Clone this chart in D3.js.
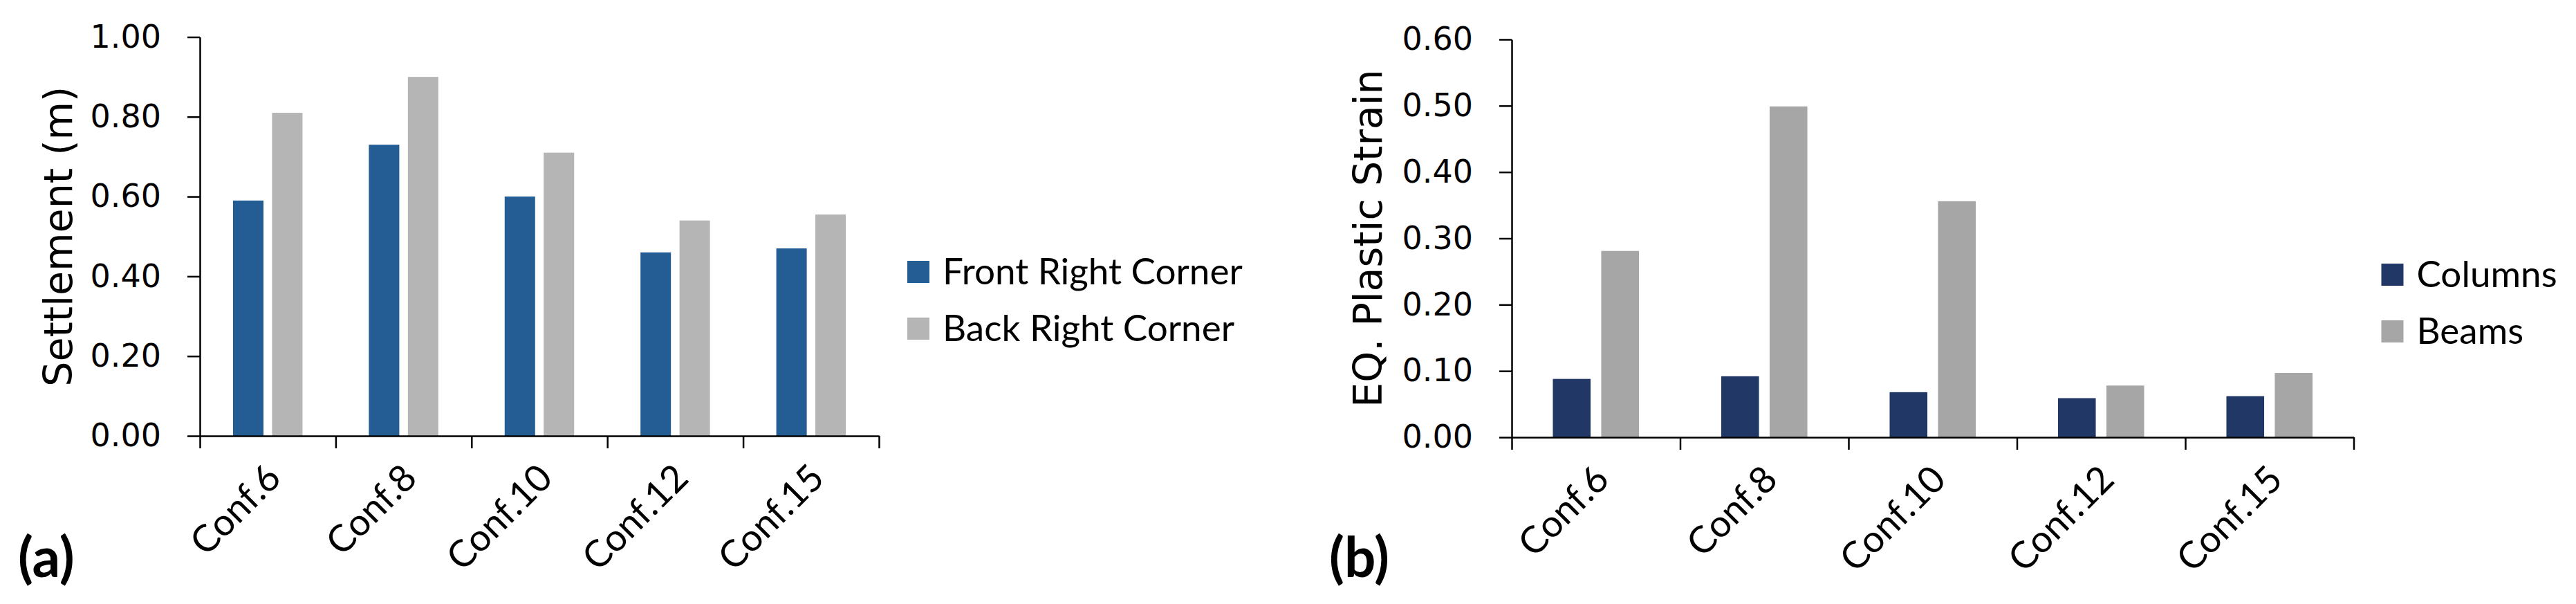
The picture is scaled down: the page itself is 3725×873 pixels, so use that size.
<!DOCTYPE html>
<html>
<head>
<meta charset="utf-8">
<script src="https://cdn.jsdelivr.net/npm/d3@7"></script>
<style>
  html, body { margin: 0; padding: 0; background: #ffffff; }
  svg { display: block; }
</style>
</head>
<body>
<script>
// ---------- data ----------
const categories = ["Conf.6", "Conf.8", "Conf.10", "Conf.12", "Conf.15"];

const settlementSeries = ["Front Right Corner", "Back Right Corner"];
const frontRightCorner = [0.59, 0.73, 0.60, 0.46, 0.47];
const backRightCorner  = [0.81, 0.90, 0.71, 0.54, 0.555];
const settlementTicks  = [0, 0.2, 0.4, 0.6, 0.8, 1.0];

const strainSeries = ["Columns", "Beams"];
const columnsStrain = [0.088, 0.092, 0.068, 0.059, 0.062];
const beamsStrain   = [0.281, 0.499, 0.356, 0.078, 0.097];
const strainTicks   = [0, 0.1, 0.2, 0.3, 0.4, 0.5, 0.6];

// ---------- page ----------
const W = 3725, H = 873;
const svg = d3.select("body").append("svg")
  .attr("width", W).attr("height", H)
  .style("background", "#ffffff");

const TICK_FONT = "'DejaVu Sans', Verdana, sans-serif";
const CAT_FONT = "Lato, 'Open Sans', sans-serif";

function drawPanel(cfg) {
  const g = svg.append("g");
  const y = d3.scaleLinear().domain([0, cfg.max]).range([cfg.y0, cfg.y1]);
  const x = d3.scaleBand().domain(cfg.categories).range([cfg.x0, cfg.x1]).padding(0);
  const xs = d3.scaleBand().domain(cfg.series).range([0, x.bandwidth()])
    .paddingInner(0.22).paddingOuter(0.85);
  const xEdges = d3.scaleLinear().domain([0, cfg.categories.length]).range([cfg.x0, cfg.x1]);

  // bars
  const rows = cfg.categories.map((c, i) => ({ c, vals: cfg.values.map(v => v[i]) }));
  const grp = g.selectAll("g.cat").data(rows).join("g")
    .attr("transform", d => `translate(${x(d.c)},0)`);
  grp.selectAll("rect").data(d => d.vals.map((v, k) => ({ v, k })))
    .join("rect")
    .attr("x", d => xs(cfg.series[d.k]))
    .attr("width", xs.bandwidth())
    .attr("y", d => y(d.v))
    .attr("height", d => y(0) - y(d.v))
    .attr("fill", d => cfg.colors[d.k]);

  // y axis
  const yAxis = g.append("g")
    .attr("transform", `translate(${cfg.x0},0)`)
    .call(d3.axisLeft(y).tickValues(cfg.ticks).tickFormat(d3.format(".2f"))
      .tickSize(18).tickSizeOuter(0).tickPadding(38));
  yAxis.selectAll("path, line").attr("stroke", "#000").attr("stroke-width", 2.5);
  yAxis.selectAll("text").attr("font-family", TICK_FONT).attr("font-size", 46)
    .attr("fill", "#000");

  // x axis (ticks at category boundaries)
  const xAxis = g.append("g")
    .attr("transform", `translate(0,${cfg.y0})`)
    .call(d3.axisBottom(xEdges).tickValues(d3.range(cfg.categories.length + 1))
      .tickFormat("").tickSize(18).tickSizeOuter(0));
  xAxis.selectAll("path, line").attr("stroke", "#000").attr("stroke-width", 2.5);

  // category labels
  g.selectAll("text.cat").data(cfg.categories).join("text")
    .attr("class", "cat")
    .attr("transform", d => `translate(${x(d) + x.bandwidth() / 2 + 22},${cfg.y0 + 64}) rotate(-45)`)
    .attr("text-anchor", "end")
    .attr("font-family", CAT_FONT).attr("font-size", 54).attr("fill", "#000")
    .text(d => d);

  // y title
  g.append("text")
    .attr("transform", `translate(${cfg.titleX},${(cfg.y0 + cfg.y1) / 2}) rotate(-90)`)
    .attr("text-anchor", "middle")
    .attr("font-family", TICK_FONT).attr("font-size", 57).attr("fill", "#000")
    .text(cfg.title);

  // legend
  const lg = g.selectAll("g.leg").data(cfg.series).join("g")
    .attr("transform", (d, i) => `translate(${cfg.legX},${cfg.legY + i * 82})`);
  lg.append("rect").attr("x", 0).attr("y", -16).attr("width", 32).attr("height", 32)
    .attr("fill", (d, i) => cfg.colors[i]);
  lg.append("text").attr("x", 51).attr("y", 18)
    .attr("font-family", CAT_FONT).attr("font-size", 53).attr("fill", "#000")
    .text(d => d);

  // panel label
  g.append("text").attr("x", cfg.labelX).attr("y", 834)
    .attr("font-family", CAT_FONT).attr("font-weight", "bold")
    .attr("font-size", 80).attr("fill", "#000")
    .text(cfg.label);
}

drawPanel({
  categories, series: settlementSeries,
  values: [frontRightCorner, backRightCorner],
  colors: ["#245c94", "#b5b5b5"],
  max: 1.0, ticks: settlementTicks,
  x0: 289, x1: 1271, y0: 630, y1: 53.5,
  title: "Settlement (m)", titleX: 104,
  legX: 1312, legY: 393,
  label: "(a)", labelX: 26
});

drawPanel({
  categories, series: strainSeries,
  values: [columnsStrain, beamsStrain],
  colors: ["#213866", "#a6a6a6"],
  max: 0.6, ticks: strainTicks,
  x0: 2186, x1: 3403.5, y0: 632, y1: 57,
  title: "EQ. Plastic Strain", titleX: 1998,
  legX: 3443.5, legY: 397,
  label: "(b)", labelX: 1922
});
</script>
</body>
</html>
